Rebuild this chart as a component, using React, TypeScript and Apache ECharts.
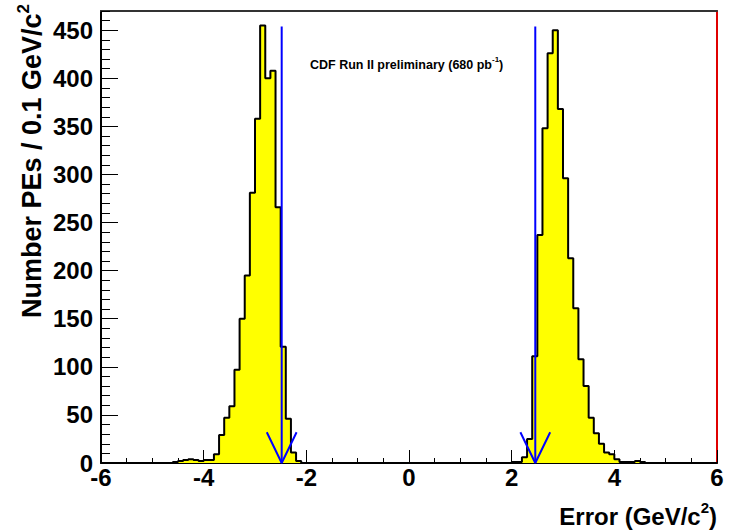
import React, { useEffect, useRef } from "react";
import * as echarts from "echarts";

// ---- data ----
const xMin = -6;
const xMax = 6;
const yMax = 470;

// left peak: lower edges of 0.1 GeV/c^2 bins and counts
const leftBinLow = [-4.6, -4.5, -4.4, -4.3, -4.2, -4.1, -4.0, -3.9, -3.8, -3.7, -3.6, -3.5, -3.4, -3.3, -3.2, -3.1, -3.0, -2.9, -2.8, -2.7, -2.6, -2.5, -2.4, -2.3, -2.2];
const leftCounts = [1, 2, 3, 4, 3, 2, 3, 3, 9, 29, 47, 59, 97, 150, 195, 281, 358, 455, 400, 408, 266, 121, 46, 11, 2];
const leftUpperEdge = -2.1;

// right peak
const rightBinLow = [2.0, 2.1, 2.2, 2.3, 2.4, 2.5, 2.6, 2.7, 2.8, 2.9, 3.0, 3.1, 3.2, 3.3, 3.4, 3.5, 3.6, 3.7, 3.8, 3.9, 4.0, 4.1, 4.2, 4.3, 4.4, 4.5];
const rightCounts = [1, 1, 6, 25, 111, 237, 348, 426, 450, 368, 296, 213, 161, 108, 80, 47, 31, 20, 11, 9, 4, 1, 1, 1, 2, 1];
const rightUpperEdge = 4.6;

// blue arrows (vertical markers)
const arrowX = [-2.48, 2.46];
const arrowTop = 454;
const headHalfWidth = 0.29;
const headHeight = 32;

const xTitle = "Error (GeV/c";
const yTitle = "Number PEs / 0.1 GeV/c";
const noteText = "CDF Run II preliminary (680 pb";

const FONT = "'Liberation Sans', Arial, Helvetica, sans-serif";

export default function App() {
  const ref = useRef<HTMLDivElement>(null);

  useEffect(() => {
    if (!ref.current) return;
    const chart = echarts.init(ref.current, null, { renderer: "svg" });

    const hist: number[][] = [
      [xMin, 0],
      ...leftBinLow.map((x, i) => [x, leftCounts[i]]),
      [leftUpperEdge, 0],
      ...rightBinLow.map((x, i) => [x, rightCounts[i]]),
      [rightUpperEdge, 0],
      [xMax, 0],
    ];

    const arrowSeries: any[] = [];
    arrowX.forEach((ax) => {
      arrowSeries.push({
        type: "line",
        xAxisIndex: 0,
        yAxisIndex: 0,
        data: [
          [ax, arrowTop],
          [ax, 0],
        ],
        symbol: "none",
        lineStyle: { color: "#0000ff", width: 2 },
        z: 5,
        silent: true,
      });
      arrowSeries.push({
        type: "line",
        xAxisIndex: 0,
        yAxisIndex: 0,
        data: [
          [ax - headHalfWidth, headHeight],
          [ax, 0],
          [ax + headHalfWidth, headHeight],
        ],
        symbol: "none",
        lineStyle: { color: "#0000ff", width: 2 },
        z: 5,
        silent: true,
      });
    });

    const labelStyle = {
      fontSize: 24,
      lineHeight: 14,
      fontWeight: "bold" as const,
      color: "#000",
      fontFamily: FONT,
    };

    const option: any = {
      animation: false,
      backgroundColor: "#fff",
      grid: { left: 101, right: 12, top: 11, bottom: 68, containLabel: false },
      xAxis: [
        {
          type: "value",
          min: xMin,
          max: xMax,
          interval: 2,
          position: "bottom",
          axisLine: { show: true, onZero: false, lineStyle: { color: "#000", width: 2 } },
          axisTick: { show: true, inside: true, length: 13, lineStyle: { color: "#000", width: 1 } },
          minorTick: { show: true, splitNumber: 4, length: 5, lineStyle: { color: "#000", width: 1 } },
          axisLabel: { ...labelStyle, margin: 7 },
          splitLine: { show: false },
          minorSplitLine: { show: false },
        },
        {
          type: "value",
          min: xMin,
          max: xMax,
          position: "top",
          axisLine: { show: true, onZero: false, lineStyle: { color: "#333", width: 2 } },
          axisTick: { show: false },
          axisLabel: { show: false },
          splitLine: { show: false },
        },
      ],
      yAxis: [
        {
          type: "value",
          min: 0,
          max: yMax,
          interval: 10,
          position: "left",
          axisLine: { show: true, onZero: false, lineStyle: { color: "#000", width: 2 } },
          axisTick: { show: true, inside: true, length: 9, lineStyle: { color: "#000", width: 1 } },
          axisLabel: { show: false },
          splitLine: { show: false },
        },
        {
          type: "value",
          min: 0,
          max: yMax,
          interval: 50,
          position: "left",
          axisLine: { show: false, onZero: false },
          axisTick: { show: true, inside: true, length: 17, lineStyle: { color: "#000", width: 1 } },
          axisLabel: { ...labelStyle, margin: 8, showMaxLabel: false },
          splitLine: { show: false },
        },
        {
          type: "value",
          min: 0,
          max: yMax,
          position: "right",
          axisLine: { show: true, onZero: false, lineStyle: { color: "#e00000", width: 2 } },
          axisTick: { show: false },
          axisLabel: { show: false },
          splitLine: { show: false },
        },
      ],
      series: [
        {
          type: "line",
          xAxisIndex: 0,
          yAxisIndex: 0,
          step: "end",
          data: hist,
          symbol: "none",
          lineStyle: { color: "#000", width: 2 },
          areaStyle: { color: "#ffff00", opacity: 1 },
          z: 3,
          silent: true,
        },
        ...arrowSeries,
      ],
      graphic: [
        {
          type: "text",
          x: 30,
          y: 4,
          rotation: Math.PI / 2,
          style: {
            text: `{t|${yTitle}}{s|2}`,
            align: "right",
            verticalAlign: "middle",
            rich: {
              t: { fontSize: 27, fontWeight: "bold", fontFamily: FONT, fill: "#000", lineHeight: 30, verticalAlign: "bottom" },
              s: { fontSize: 17, fontWeight: "bold", fontFamily: FONT, fill: "#000", lineHeight: 30, verticalAlign: "top" },
            },
          },
        },
        {
          type: "text",
          x: 717,
          y: 514,
          style: {
            text: `{t|${xTitle}}{s|2}{t|)}`,
            align: "right",
            verticalAlign: "middle",
            rich: {
              t: { fontSize: 24, fontWeight: "bold", fontFamily: FONT, fill: "#000", lineHeight: 28, verticalAlign: "bottom" },
              s: { fontSize: 15, fontWeight: "bold", fontFamily: FONT, fill: "#000", lineHeight: 28, verticalAlign: "top" },
            },
          },
        },
        {
          type: "text",
          x: 310,
          y: 63,
          style: {
            text: `{t|${noteText}}{s|-1}{t|)}`,
            align: "left",
            verticalAlign: "middle",
            rich: {
              t: { fontSize: 12.5, fontWeight: "bold", fontFamily: FONT, fill: "#000", lineHeight: 16, verticalAlign: "bottom" },
              s: { fontSize: 8, fontWeight: "bold", fontFamily: FONT, fill: "#000", lineHeight: 16, verticalAlign: "top" },
            },
          },
        },
      ],
    };

    chart.setOption(option);
    return () => chart.dispose();
  }, []);

  return (
    <div
      ref={ref}
      style={{ position: "fixed", left: 0, top: 0, width: 729, height: 531, background: "#fff" }}
    />
  );
}
